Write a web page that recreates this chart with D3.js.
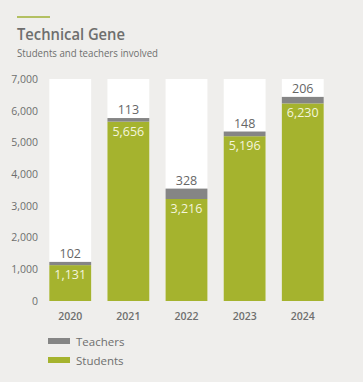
<!DOCTYPE html>
<html>
<head>
<meta charset="utf-8">
<script src="https://cdn.jsdelivr.net/npm/d3@7"></script>
<style>
  html, body { margin: 0; padding: 0; background: #efeeec; }
  svg { display: block; font-family: "Open Sans", "Noto Sans", sans-serif; }
</style>
</head>
<body>
<svg id="chart" width="363" height="382"></svg>
<script>
// data
const years = ['2020', '2021', '2022', '2023', '2024'];
const students = [1131, 5656, 3216, 5196, 6230];
const teachers = [102, 113, 328, 148, 206];
const yTicks = [0, 1000, 2000, 3000, 4000, 5000, 6000, 7000];

const green = '#a5b32e',
    grey = '#858585',
    textGrey = '#6e6e6e';

let svg = d3.select('#chart');

svg.append('rect')
    .attr('width', 363).attr('height', 382)
    .attr('fill', '#efeeec');

// header
svg.append('line')
    .attr('x1', 17).attr('x2', 50)
    .attr('y1', 17).attr('y2', 17)
    .attr('stroke', '#b3c062').attr('stroke-width', 2);

svg.append('text')
    .attr('x', 17).attr('y', 39.5)
    .attr('fill', textGrey)
    .attr('font-size', 16)
    .attr('font-weight', 600)
    .attr('textLength', 108)
    .attr('lengthAdjust', 'spacingAndGlyphs')
    .text('Technical Gene');

svg.append('text')
    .attr('x', 17).attr('y', 57)
    .attr('fill', textGrey)
    .attr('font-size', 10.5)
    .attr('textLength', 141)
    .attr('lengthAdjust', 'spacingAndGlyphs')
    .text('Students and teachers involved');

// scales
let x = d3.scaleBand()
    .domain(years)
    .range([40, 333])
    .paddingInner(0.28)
    .paddingOuter(0.16);

let y = d3.scaleLinear()
    .domain([0, 7000])
    .range([301, 79]);

// y axis labels
svg.append('g')
    .attr('transform', 'translate(38,0)')
    .call(d3.axisLeft(y).tickValues(yTicks).tickFormat(d3.format(',')).tickSize(0).tickPadding(0))
    .call(g => g.select('.domain').remove())
    .call(g => g.selectAll('text')
        .attr('fill', textGrey)
        .attr('font-size', 10.5)
        .attr('font-family', '"Open Sans", sans-serif'));

// background columns
svg.append('g').selectAll('rect')
    .data(years)
    .join('rect')
    .attr('x', d => x(d))
    .attr('width', x.bandwidth())
    .attr('y', y(7000))
    .attr('height', y(0) - y(7000))
    .attr('fill', '#ffffff');

// students
svg.append('g').selectAll('rect')
    .data(years)
    .join('rect')
    .attr('x', d => x(d))
    .attr('width', x.bandwidth())
    .attr('y', (d, i) => y(students[i]))
    .attr('height', (d, i) => y(0) - y(students[i]))
    .attr('fill', green);

// teachers stacked on top
svg.append('g').selectAll('rect')
    .data(years)
    .join('rect')
    .attr('x', d => x(d))
    .attr('width', x.bandwidth())
    .attr('y', (d, i) => y(students[i] + teachers[i]))
    .attr('height', (d, i) => y(students[i]) - y(students[i] + teachers[i]))
    .attr('fill', grey);

// value labels
svg.append('g').selectAll('text')
    .data(years)
    .join('text')
    .attr('x', d => x(d) + x.bandwidth() / 2)
    .attr('y', (d, i) => y(students[i] + teachers[i]) - 4)
    .attr('text-anchor', 'middle')
    .attr('fill', '#666')
    .attr('font-size', 12.5)
    .text((d, i) => d3.format(',')(teachers[i]));

svg.append('g').selectAll('text')
    .data(years)
    .join('text')
    .attr('x', d => x(d) + x.bandwidth() / 2)
    .attr('y', (d, i) => y(students[i]) + 14)
    .attr('text-anchor', 'middle')
    .attr('fill', '#f4f5dc')
    .attr('font-size', 12.5)
    .text((d, i) => d3.format(',')(students[i]));

// x axis labels
svg.append('g')
    .attr('transform', 'translate(0,' + y(0) + ')')
    .call(d3.axisBottom(x).tickSize(0).tickPadding(12))
    .call(g => g.select('.domain').remove())
    .call(g => g.selectAll('text')
        .attr('fill', textGrey)
        .attr('font-size', 10.5)
        .attr('font-weight', 600)
        .attr('font-family', '"Open Sans", sans-serif'));

// legend
const legendItems = [['Teachers', grey], ['Students', green]];
let legend = svg.append('g').selectAll('g')
    .data(legendItems)
    .join('g')
    .attr('transform', (d, i) => 'translate(48,' + (341 + i * 19) + ')');

legend.append('rect')
    .attr('x', 0).attr('y', -3)
    .attr('width', 22).attr('height', 6)
    .attr('fill', d => d[1]);

legend.append('text')
    .attr('x', 28).attr('y', 4.5)
    .attr('fill', textGrey)
    .attr('font-size', 11.5)
    .text(d => d[0]);
</script>
</body>
</html>
